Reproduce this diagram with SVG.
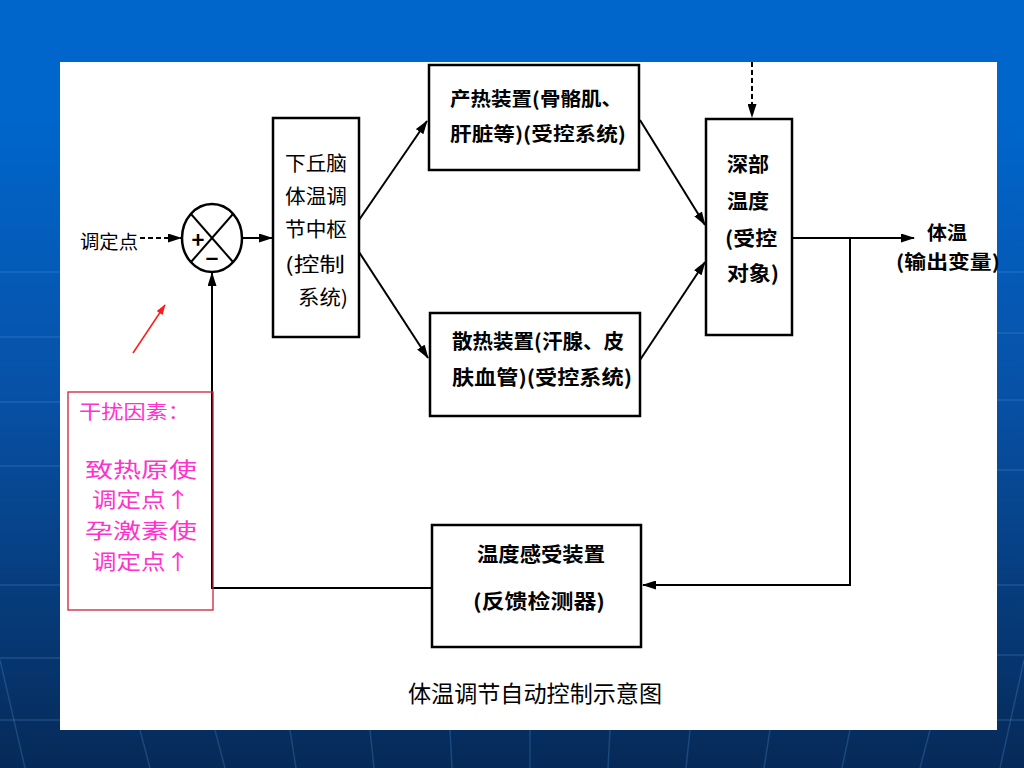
<svg xmlns="http://www.w3.org/2000/svg" width="1024" height="768" viewBox="0 0 1024 768">
<defs>
<linearGradient id="bg" x1="0" y1="0" x2="0" y2="1">
<stop offset="0" stop-color="#0066CC"/>
<stop offset="0.15" stop-color="#0066CC"/>
<stop offset="0.5" stop-color="#0752A8"/>
<stop offset="1" stop-color="#062A58"/>
</linearGradient>
<marker id="ah" viewBox="0 0 14 9" refX="13" refY="4.5" markerWidth="14" markerHeight="9" markerUnits="userSpaceOnUse" orient="auto">
<path d="M0,0 L14,4.5 L0,9 Z" fill="#000"/>
</marker>
<marker id="ahr" viewBox="0 0 12 8" refX="11" refY="4" markerWidth="11" markerHeight="7" markerUnits="userSpaceOnUse" orient="auto">
<path d="M0,0 L12,4 L0,8 Z" fill="#FF1A1A"/>
</marker>
<style>
.box{fill:#fff;stroke:#000;stroke-width:2.5}
.ln{fill:none;stroke:#000;stroke-width:2}
.dash{stroke-dasharray:5 3}
.t{font-family:"Noto Sans CJK SC","Noto Sans",sans-serif;fill:#000;dominant-baseline:central}
.b{font-weight:700}
.pk{font-family:"Noto Sans CJK SC","Noto Sans",sans-serif;fill:#FF33CC;dominant-baseline:central}
.grid{stroke:#5A9BE0;stroke-opacity:0.25;stroke-width:1.5}
</style>
</defs>
<g id="background">
<rect x="0" y="0" width="1024" height="768" fill="url(#bg)"/>
<g class="grid">
<line x1="0" y1="272" x2="60" y2="272"/><line x1="997" y1="272" x2="1024" y2="272"/>
<line x1="0" y1="337" x2="60" y2="337"/><line x1="997" y1="333" x2="1024" y2="333"/>
<line x1="0" y1="402" x2="60" y2="402"/><line x1="997" y1="400" x2="1024" y2="400"/>
<line x1="0" y1="466" x2="60" y2="466"/><line x1="997" y1="470" x2="1024" y2="470"/>
<line x1="0" y1="585" x2="60" y2="585"/><line x1="997" y1="585" x2="1024" y2="585"/>
<line x1="0" y1="658" x2="60" y2="658"/><line x1="997" y1="655" x2="1024" y2="655"/>
<line x1="0" y1="720" x2="60" y2="720"/><line x1="997" y1="720" x2="1024" y2="720"/>
<line x1="140" y1="730" x2="150" y2="768"/><line x1="215" y1="730" x2="225" y2="768"/>
<line x1="290" y1="730" x2="296" y2="768"/><line x1="370" y1="730" x2="374" y2="768"/>
<line x1="450" y1="730" x2="452" y2="768"/><line x1="530" y1="730" x2="530" y2="768"/>
<line x1="610" y1="730" x2="608" y2="768"/><line x1="690" y1="730" x2="686" y2="768"/>
<line x1="770" y1="730" x2="764" y2="768"/><line x1="850" y1="730" x2="842" y2="768"/>
<line x1="930" y1="730" x2="920" y2="768"/>
<line x1="0" y1="660" x2="25" y2="768"/><line x1="1024" y1="660" x2="1000" y2="768"/>
</g>
<rect x="60" y="62" width="937" height="668" fill="#fff"/>
</g>
<g id="connectors">
<line class="ln dash" x1="140" y1="238" x2="181" y2="238" marker-end="url(#ah)"/>
<line class="ln" x1="242" y1="238" x2="272" y2="238" marker-end="url(#ah)"/>
<line class="ln" x1="359" y1="220" x2="427" y2="121" marker-end="url(#ah)"/>
<line class="ln" x1="359" y1="252" x2="428" y2="358" marker-end="url(#ah)"/>
<line class="ln" x1="640" y1="120" x2="705" y2="225" marker-end="url(#ah)"/>
<line class="ln" x1="640" y1="360" x2="705" y2="262" marker-end="url(#ah)"/>
<line class="ln dash" x1="752" y1="62" x2="752" y2="117" marker-end="url(#ah)"/>
<line class="ln" x1="792" y1="238" x2="914" y2="238" marker-end="url(#ah)"/>
<path class="ln" d="M850,238 V585 H643" marker-end="url(#ah)"/>
<path class="ln" d="M432,588 H212 V273" marker-end="url(#ah)"/>
<line x1="133" y1="353" x2="165" y2="305" stroke="#FF1A1A" stroke-width="1.5" marker-end="url(#ahr)"/>
</g>
<g id="input">
<text class="t" x="80" y="240" font-size="19" textLength="58" lengthAdjust="spacingAndGlyphs">调定点</text>
</g>
<g id="sum">
<ellipse cx="212" cy="238" rx="30" ry="34" fill="#fff" stroke="#000" stroke-width="2.5"/>
<line class="ln" x1="191" y1="214" x2="233" y2="262"/>
<line class="ln" x1="233" y1="214" x2="191" y2="262"/>
<text class="t b" x="198" y="238" font-size="22" text-anchor="middle">+</text>
<text class="t b" x="212" y="257" font-size="22" text-anchor="middle">−</text>
</g>
<g id="controller">
<rect class="box" x="273" y="118" width="86" height="219"/>
<text class="t" x="285" y="162" font-size="20" textLength="62" lengthAdjust="spacingAndGlyphs">下丘脑</text>
<text class="t" x="285" y="195" font-size="20" textLength="62" lengthAdjust="spacingAndGlyphs">体温调</text>
<text class="t" x="285" y="228" font-size="20" textLength="62" lengthAdjust="spacingAndGlyphs">节中枢</text>
<text class="t" x="285" y="263" font-size="20" textLength="60" lengthAdjust="spacingAndGlyphs">(控制</text>
<text class="t" x="298" y="296" font-size="20" textLength="50" lengthAdjust="spacingAndGlyphs">系统)</text>
</g>
<g id="heat-production">
<rect class="box" x="429" y="65" width="210" height="105"/>
<text class="t b" x="450" y="97" font-size="19" textLength="172" lengthAdjust="spacingAndGlyphs">产热装置(骨骼肌、</text>
<text class="t b" x="450" y="132" font-size="19" textLength="176" lengthAdjust="spacingAndGlyphs">肝脏等)(受控系统)</text>
</g>
<g id="heat-dissipation">
<rect class="box" x="430" y="313" width="210" height="103"/>
<text class="t b" x="452" y="340" font-size="20" textLength="172" lengthAdjust="spacingAndGlyphs">散热装置(汗腺、皮</text>
<text class="t b" x="452" y="376" font-size="20" textLength="180" lengthAdjust="spacingAndGlyphs">肤血管)(受控系统)</text>
</g>
<g id="deep-temperature">
<rect class="box" x="706" y="119" width="86" height="216"/>
<text class="t b" x="727" y="163" font-size="20" textLength="42" lengthAdjust="spacingAndGlyphs">深部</text>
<text class="t b" x="727" y="200" font-size="20" textLength="42" lengthAdjust="spacingAndGlyphs">温度</text>
<text class="t b" x="725" y="237" font-size="20" textLength="52" lengthAdjust="spacingAndGlyphs">(受控</text>
<text class="t b" x="727" y="272" font-size="20" textLength="52" lengthAdjust="spacingAndGlyphs">对象)</text>
</g>
<g id="output">
<text class="t b" x="927" y="231" font-size="19" textLength="40" lengthAdjust="spacingAndGlyphs">体温</text>
<text class="t b" x="896" y="260" font-size="19" textLength="104" lengthAdjust="spacingAndGlyphs">(输出变量)</text>
</g>
<g id="sensor">
<rect class="box" x="432" y="525" width="209" height="122"/>
<text class="t b" x="477" y="553" font-size="20" textLength="128" lengthAdjust="spacingAndGlyphs">温度感受装置</text>
<text class="t b" x="473" y="600" font-size="20" textLength="132" lengthAdjust="spacingAndGlyphs">(反馈检测器)</text>
</g>
<g id="disturbance">
<rect x="68" y="392" width="145" height="218" fill="none" stroke="#D0203A" stroke-width="1.3"/>
<text class="pk" x="79" y="410" font-size="19" textLength="111" lengthAdjust="spacingAndGlyphs">干扰因素：</text>
<text class="pk" x="85" y="468" font-size="21" textLength="112" lengthAdjust="spacingAndGlyphs">致热原使</text>
<text class="pk" x="92" y="498" font-size="21" textLength="98" lengthAdjust="spacingAndGlyphs">调定点↑</text>
<text class="pk" x="85" y="529" font-size="21" textLength="112" lengthAdjust="spacingAndGlyphs">孕激素使</text>
<text class="pk" x="92" y="560" font-size="21" textLength="98" lengthAdjust="spacingAndGlyphs">调定点↑</text>
</g>
<g id="caption">
<text class="t" x="408" y="692" font-size="23" textLength="254" lengthAdjust="spacingAndGlyphs">体温调节自动控制示意图</text>
</g>
</svg>
